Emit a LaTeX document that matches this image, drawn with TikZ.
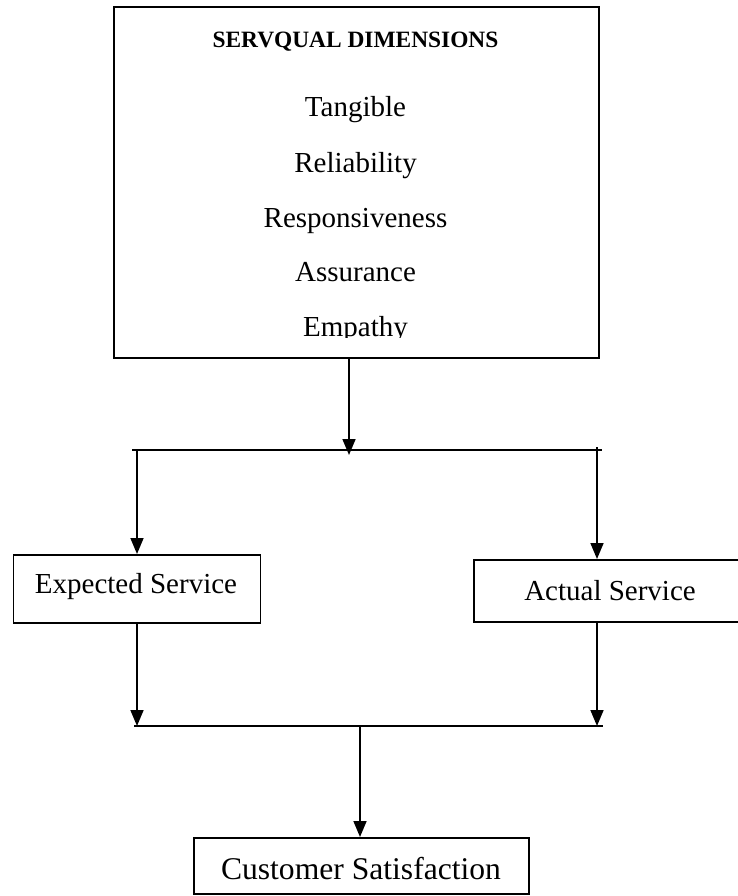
\documentclass[tikz,border=0pt]{standalone}
\usepackage{fontspec}
\setmainfont{Liberation Serif}
\usetikzlibrary{arrows.meta}
\begin{document}
\begin{tikzpicture}[x=1pt,y=-1pt,
  boxstyle/.style={draw,line width=1.7pt,rectangle,inner sep=0pt,anchor=north west},
  bodytext/.style={anchor=base,inner sep=0pt,font=\fontsize{29}{34}\selectfont},
  titletext/.style={anchor=base,inner sep=0pt,font=\bfseries\fontsize{23.4}{28}\selectfont},
  conn/.style={line width=1.7pt},
  arr/.style={line width=1.7pt,-{Triangle[width=13pt,length=16pt]}}]
\useasboundingbox (0,0) rectangle (738,896);
% boxes
\node[boxstyle,minimum width=485pt,minimum height=351pt] (dims) at (113,6) {};
\node[boxstyle,minimum width=247pt,minimum height=68pt] (exp) at (12.5,554) {};
\node[boxstyle,minimum width=274pt,minimum height=62pt] (act) at (473,559) {};
\node[boxstyle,minimum width=335pt,minimum height=56pt] (cust) at (193,837) {};
% texts
\node[titletext] (title) at (355.5,48) {SERVQUAL DIMENSIONS};
\node[bodytext] (t1) at (355.5,117) {Tangible};
\node[bodytext] (t2) at (355.5,172) {Reliability};
\node[bodytext] (t3) at (355.5,227) {Responsiveness};
\node[bodytext] (t4) at (355.5,281) {Assurance};
\begin{scope}
\clip (113,6) rectangle (598,337);
\node[bodytext] (t5) at (355.5,336) {Empathy};
\end{scope}
\node[bodytext] (expt) at (136,593) {Expected Service};
\node[bodytext] (actt) at (610,600) {Actual Service};
\node[bodytext,font=\fontsize{31.6}{36}\selectfont] (custt) at (361,879) {Customer Satisfaction};
% junction coordinates
\coordinate (j1) at (349,455);
\coordinate (l1) at (132,450);
\coordinate (r1) at (602,450);
\coordinate (ld) at (137,450);
\coordinate (rd) at (597,447);
\coordinate (l2) at (134,726);
\coordinate (r2) at (603,726);
\coordinate (ls) at (137,726);
\coordinate (rs) at (597,726);
\coordinate (c2) at (360,726);
% connectors
\draw[arr] (dims.south -| j1) -- (j1);
\draw[conn] (l1) -- (r1);
\draw[arr] (ld) -- (ld |- exp.north);
\draw[arr] (rd) -- (rd |- act.north);
\draw[arr] (exp.south -| ls) -- (ls);
\draw[arr] (act.south -| rs) -- (rs);
\draw[conn] (l2) -- (r2);
\draw[arr] (c2) -- (c2 |- cust.north);
\end{tikzpicture}
\end{document}
